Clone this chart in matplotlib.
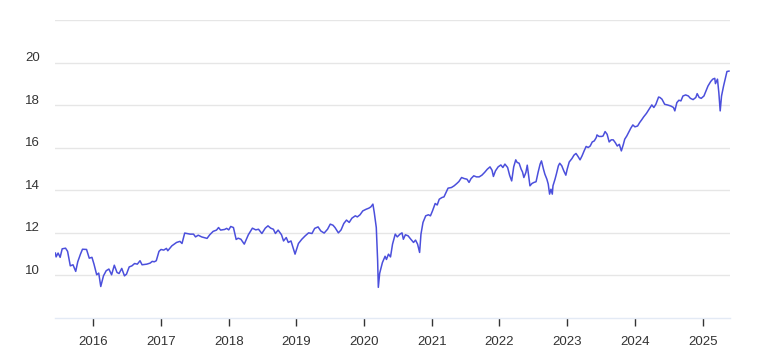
import matplotlib; matplotlib.use("Agg")
import matplotlib.pyplot as plt
from matplotlib.transforms import ScaledTranslation

plt.rcParams["font.family"] = ["Liberation Sans", "DejaVu Sans"]

# decimal year / value pairs, split by period just to keep it readable
yr_2015_16 = [2015.44, 2015.45, 2015.48, 2015.51, 2015.54, 2015.59, 2015.62, 2015.66, 2015.70, 2015.74,
              2015.77, 2015.81, 2015.84, 2015.90, 2015.94, 2015.98, 2016.01, 2016.05, 2016.08, 2016.11,
              2016.15, 2016.19, 2016.23, 2016.27, 2016.31, 2016.35, 2016.38, 2016.42, 2016.46, 2016.49,
              2016.53, 2016.57, 2016.61, 2016.65, 2016.69, 2016.72, 2016.79, 2016.84, 2016.87, 2016.90,
              2016.93, 2016.97]
val_2015_16 = [11.05, 10.87, 11.05, 10.85, 11.25, 11.28, 11.13, 10.45, 10.50, 10.19,
               10.64, 11.00, 11.23, 11.22, 10.81, 10.85, 10.53, 10.03, 10.11, 9.48,
               9.98, 10.22, 10.30, 10.03, 10.48, 10.14, 10.09, 10.33, 9.98, 10.06,
               10.40, 10.45, 10.56, 10.53, 10.69, 10.50, 10.53, 10.58, 10.66, 10.64,
               10.69, 11.13]

yr_2017_18 = [2017.00, 2017.04, 2017.08, 2017.10, 2017.16, 2017.23, 2017.28, 2017.31, 2017.35, 2017.43,
              2017.48, 2017.51, 2017.55, 2017.60, 2017.68, 2017.72, 2017.77, 2017.82, 2017.85, 2017.88,
              2017.94, 2017.97, 2018.00, 2018.03, 2018.07, 2018.11, 2018.14, 2018.18, 2018.23, 2018.29,
              2018.35, 2018.40, 2018.44, 2018.49, 2018.54, 2018.58, 2018.62, 2018.66, 2018.69, 2018.73,
              2018.78, 2018.81, 2018.85, 2018.88, 2018.92, 2018.95, 2018.98]
val_2017_18 = [11.22, 11.19, 11.27, 11.16, 11.39, 11.55, 11.60, 11.50, 11.99, 11.94,
               11.94, 11.81, 11.89, 11.81, 11.74, 11.91, 12.07, 12.13, 12.25, 12.13,
               12.16, 12.21, 12.14, 12.30, 12.25, 11.69, 11.75, 11.70, 11.47, 11.91,
               12.22, 12.14, 12.17, 11.97, 12.22, 12.33, 12.22, 12.17, 11.97, 12.13,
               11.91, 11.62, 11.78, 11.55, 11.62, 11.31, 11.00]

yr_2019_20 = [2019.03, 2019.08, 2019.13, 2019.18, 2019.23, 2019.27, 2019.32, 2019.36, 2019.41, 2019.46,
              2019.50, 2019.54, 2019.57, 2019.62, 2019.66, 2019.70, 2019.74, 2019.78, 2019.82, 2019.87,
              2019.90, 2019.94, 2019.98, 2020.03, 2020.07, 2020.10, 2020.13, 2020.15, 2020.18, 2020.20,
              2020.21, 2020.23, 2020.27, 2020.31, 2020.33, 2020.36, 2020.39, 2020.42, 2020.46, 2020.49,
              2020.53, 2020.56, 2020.58, 2020.61, 2020.65, 2020.69, 2020.73, 2020.76, 2020.79, 2020.82,
              2020.84, 2020.87, 2020.91, 2020.95, 2020.98]
val_2019_20 = [11.50, 11.70, 11.86, 12.00, 11.97, 12.21, 12.28, 12.09, 11.99, 12.17,
               12.41, 12.36, 12.25, 12.00, 12.14, 12.44, 12.60, 12.49, 12.69, 12.80,
               12.75, 12.85, 13.03, 13.11, 13.16, 13.22, 13.35, 12.96, 12.25, 10.69,
               9.44, 10.10, 10.60, 10.90, 10.75, 11.00, 10.87, 11.47, 11.94, 11.81,
               11.94, 12.00, 11.70, 11.91, 11.86, 11.70, 11.55, 11.66, 11.47, 11.08,
               11.94, 12.49, 12.80, 12.85, 12.80]

yr_2021_22 = [2021.01, 2021.05, 2021.08, 2021.11, 2021.15, 2021.18, 2021.21, 2021.24, 2021.29, 2021.33,
              2021.37, 2021.40, 2021.44, 2021.48, 2021.52, 2021.55, 2021.58, 2021.62, 2021.66, 2021.70,
              2021.74, 2021.78, 2021.82, 2021.86, 2021.89, 2021.91, 2021.94, 2021.98, 2022.02, 2022.05,
              2022.08, 2022.12, 2022.15, 2022.18, 2022.21, 2022.24, 2022.26, 2022.29, 2022.32, 2022.34,
              2022.36, 2022.39, 2022.41, 2022.43, 2022.45, 2022.48, 2022.51, 2022.54, 2022.57, 2022.60,
              2022.62, 2022.65, 2022.67, 2022.70, 2022.72, 2022.74, 2022.76, 2022.78, 2022.79, 2022.82,
              2022.84, 2022.87, 2022.89, 2022.92, 2022.95, 2022.98]
val_2021_22 = [13.03, 13.38, 13.31, 13.58, 13.66, 13.69, 13.90, 14.10, 14.13, 14.21,
               14.32, 14.41, 14.60, 14.55, 14.52, 14.37, 14.55, 14.68, 14.63, 14.63,
               14.71, 14.84, 14.99, 15.10, 14.94, 14.65, 14.91, 15.10, 15.19, 15.07,
               15.23, 15.07, 14.70, 14.44, 15.10, 15.43, 15.31, 15.27, 14.99, 14.86,
               14.60, 14.84, 15.18, 14.71, 14.21, 14.32, 14.37, 14.40, 14.84, 15.23,
               15.38, 14.99, 14.76, 14.52, 14.29, 13.82, 14.05, 13.82, 14.21, 14.52,
               14.76, 15.15, 15.27, 15.15, 14.91, 14.71]

yr_2023_25 = [2023.00, 2023.03, 2023.07, 2023.10, 2023.13, 2023.16, 2023.19, 2023.22, 2023.25, 2023.28,
              2023.31, 2023.34, 2023.37, 2023.40, 2023.43, 2023.44, 2023.47, 2023.51, 2023.53, 2023.56,
              2023.59, 2023.62, 2023.65, 2023.68, 2023.71, 2023.74, 2023.77, 2023.80, 2023.83, 2023.85,
              2023.88, 2023.91, 2023.94, 2023.97, 2024.00, 2024.04, 2024.07, 2024.10, 2024.13, 2024.17,
              2024.21, 2024.25, 2024.28, 2024.31, 2024.35, 2024.37, 2024.40, 2024.44, 2024.48, 2024.53,
              2024.57, 2024.59, 2024.62, 2024.65, 2024.68, 2024.71, 2024.75, 2024.79, 2024.82, 2024.86,
              2024.90, 2024.92, 2024.95, 2024.98, 2025.02, 2025.05, 2025.08, 2025.12, 2025.15, 2025.18,
              2025.19, 2025.22, 2025.24, 2025.26, 2025.28, 2025.31, 2025.34, 2025.36, 2025.39]
val_2023_25 = [14.99, 15.33, 15.49, 15.65, 15.73, 15.59, 15.43, 15.62, 15.85, 16.06,
               16.01, 16.08, 16.27, 16.32, 16.48, 16.60, 16.53, 16.53, 16.55, 16.76,
               16.63, 16.27, 16.37, 16.37, 16.24, 16.08, 16.16, 15.85, 16.16, 16.40,
               16.55, 16.74, 16.92, 17.07, 16.98, 17.02, 17.18, 17.31, 17.45, 17.61,
               17.81, 18.01, 17.89, 18.04, 18.38, 18.36, 18.28, 18.04, 18.01, 17.96,
               17.89, 17.73, 18.12, 18.23, 18.20, 18.43, 18.48, 18.43, 18.32, 18.26,
               18.36, 18.54, 18.36, 18.32, 18.43, 18.67, 18.90, 19.11, 19.22, 19.26,
               19.01, 19.22, 18.59, 17.73, 18.43, 18.90, 19.30, 19.58, 19.60]

years = yr_2015_16 + yr_2017_18 + yr_2019_20 + yr_2021_22 + yr_2023_25
values = val_2015_16 + val_2017_18 + val_2019_20 + val_2021_22 + val_2023_25

year_ticks = list(range(2016, 2026))
y_ticks = [10, 12, 14, 16, 18, 20, 22]
y_labels = ["10", "12", "14", "16", "18", "20", ""]

fig = plt.figure(figsize=(7.58, 3.57), dpi=100)
ax = fig.add_axes([55 / 758, 39 / 357, 675 / 758, 298 / 357])
ax.plot(years, values, color="#4b4fdc", lw=1.1, solid_joinstyle="round")

ax.set_xlim(2015.434, 2025.405); ax.set_ylim(8, 22)
ax.set_yticks(y_ticks); ax.set_yticklabels(y_labels)
ax.set_xticks(year_ticks); ax.set_xticklabels([str(y) for y in year_ticks])
ax.grid(axis="y", color="#e6e6e6", lw=1); ax.set_axisbelow(True)
for s in ("top", "right", "left"):
    ax.spines[s].set_visible(False)
ax.spines["bottom"].set_color("#e3eaf5"); ax.spines["bottom"].set_linewidth(1)
ax.tick_params(axis="y", length=0, pad=11, labelsize=9.5, labelcolor="#333333")
ax.tick_params(axis="x", length=6, width=1, color="#333333", pad=7, labelsize=9.5, labelcolor="#333333")
off = ScaledTranslation(0, 6 / 100, fig.dpi_scale_trans)
for lbl in ax.get_yticklabels():
    lbl.set_transform(lbl.get_transform() + off)

fig.savefig("out.png", dpi=100)
